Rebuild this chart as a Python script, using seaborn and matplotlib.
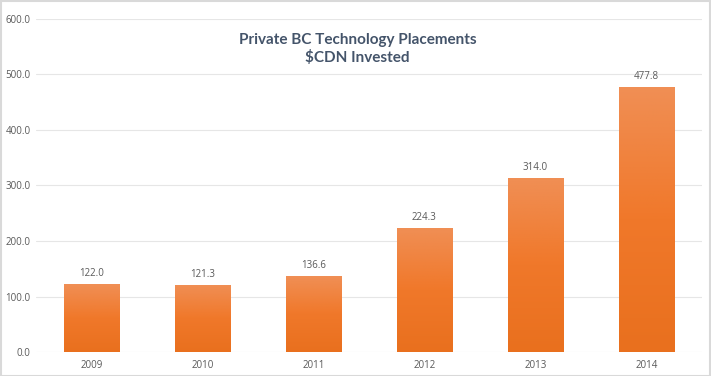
import numpy as np
import pandas as pd
import seaborn as sns
import matplotlib.pyplot as plt
from matplotlib.colors import LinearSegmentedColormap

years = ["2009", "2010", "2011", "2012", "2013", "2014"]
invested = [122.0, 121.3, 136.6, 224.3, 314.0, 477.8]

df = pd.DataFrame({"year": years, "invested": invested})

sns.set_style("white")
plt.rcParams["font.family"] = ["Open Sans", "DejaVu Sans"]

fig = plt.figure(figsize=(7.11, 3.76), dpi=100)
ax = fig.add_axes([0.0506, 0.0638, 0.9367, 0.8857])

sns.barplot(data=df, x="year", y="invested", color="#EE7F35", width=0.5,
            saturation=1, ax=ax, zorder=2)

# light-to-dark orange gradient on each bar
cmap = LinearSegmentedColormap.from_list("orng", ["#E9701E", "#F0782A", "#F08F55"])
grad = np.linspace(0, 1, 256).reshape(-1, 1)
for bar in ax.patches:
    x0, y0 = bar.get_x(), bar.get_y()
    w, h = bar.get_width(), bar.get_height()
    im = ax.imshow(grad, cmap=cmap, aspect="auto", origin="lower",
                   extent=[x0, x0 + w, y0, y0 + h], zorder=3)
    im.set_clip_path(bar)
    bar.set_edgecolor("#F3A06F")
    bar.set_linewidth(0.6)

for bar, v in zip(ax.patches, invested):
    ax.text(bar.get_x() + bar.get_width() / 2, v + 9, f"{v:.1f}",
            ha="center", va="bottom", fontsize=7, color="#595959")

ax.set_xlim(-0.5, len(years) - 0.5)
ax.set_ylim(0, 600)
ax.set_yticks(np.arange(0, 601, 100))
ax.set_yticklabels([f"{t:.1f}" for t in range(0, 601, 100)])
ax.yaxis.grid(True, color="#E6E6E6", linewidth=0.8, zorder=0)
ax.set_axisbelow(True)
ax.tick_params(axis="both", length=0, labelsize=7, labelcolor="#595959", pad=6)
ax.tick_params(axis="y", pad=4)
ax.set_xlabel("")
ax.set_ylabel("")
for s in ax.spines.values():
    s.set_visible(False)

fig.text(0.503, 0.871, "Private BC Technology Placements\n$CDN Invested",
         ha="center", va="center", fontsize=11, fontweight="bold",
         family=["Lato", "DejaVu Sans"], color="#44546A", linespacing=1.25)

fig.patches.append(plt.Rectangle((0.001, 0.001), 0.997, 0.996, transform=fig.transFigure,
                                 fill=False, edgecolor="#D9D9D9", linewidth=1.5))

fig.savefig("out.png", dpi=100)
